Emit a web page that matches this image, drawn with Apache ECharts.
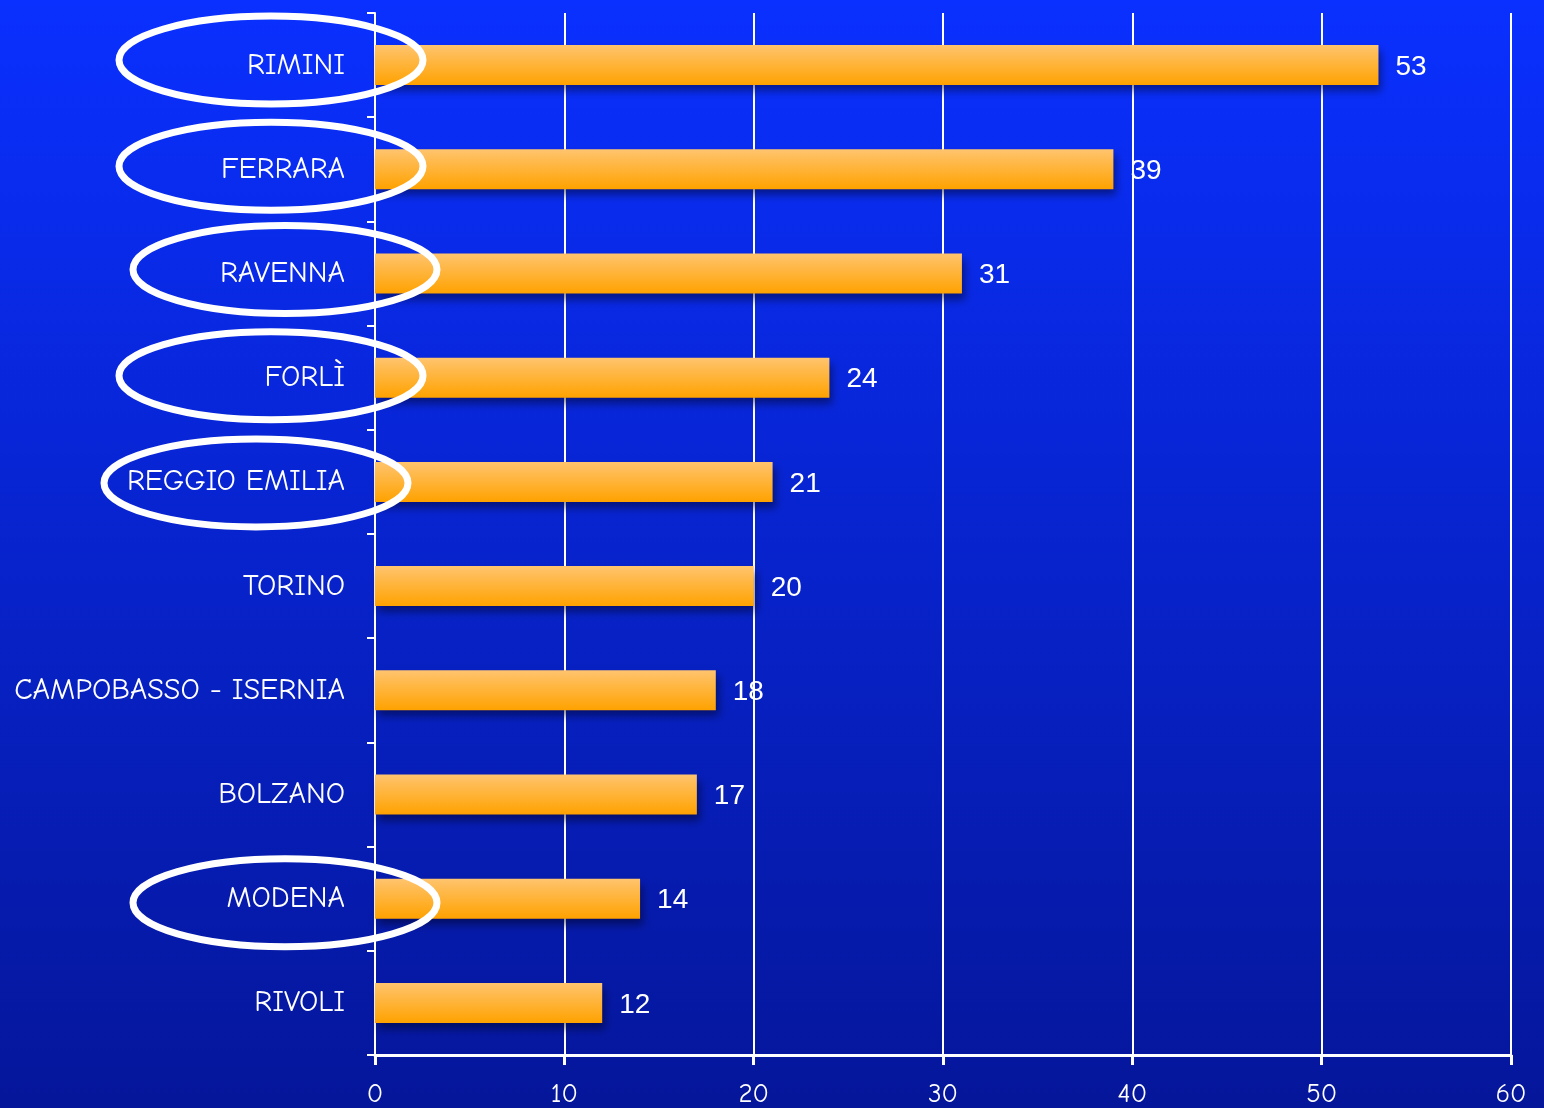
<!DOCTYPE html>
<html>
<head>
<meta charset="utf-8">
<script src="https://cdn.jsdelivr.net/npm/echarts@6/dist/echarts.min.js"></script>
<style>
  html, body { margin: 0; padding: 0; }
  #chart { width: 1544px; height: 1108px; }
</style>
</head>
<body>
<div id="chart"></div>
<script>
// Cities ranked top to bottom and their values
const categories = ['RIMINI', 'FERRARA', 'RAVENNA', 'FORLÌ', 'REGGIO EMILIA', 'TORINO', 'CAMPOBASSO - ISERNIA', 'BOLZANO', 'MODENA', 'RIVOLI'];
const values = [53, 39, 31, 24, 21, 20, 18, 17, 14, 12];
const xTicks = [0, 10, 20, 30, 40, 50, 60];
// Cities circled next to their label
const circled = ['RIMINI', 'FERRARA', 'RAVENNA', 'FORLÌ', 'REGGIO EMILIA', 'MODENA'];
const circleShift = { 'RIMINI': [-104, -5], 'FERRARA': [-104, -3], 'RAVENNA': [-90, -4], 'FORLÌ': [-104, -2], 'REGGIO EMILIA': [-119, 1], 'MODENA': [-90, 4] };

const labelFont = "'Comic Sans MS', 'Comic Neue', 'DejaVu Sans', sans-serif";

const chart = echarts.init(document.getElementById('chart'));
chart.setOption({
  animation: false,
  backgroundColor: {
    type: 'linear', x: 0, y: 0, x2: 0, y2: 1,
    colorStops: [{ offset: 0, color: '#0a30ff' }, { offset: 1, color: '#05169a' }]
  },
  grid: { left: 375, right: 33, top: 13, bottom: 52, containLabel: false },
  xAxis: {
    type: 'value', min: xTicks[0], max: xTicks[xTicks.length - 1], interval: 10,
    axisLine: { show: true, lineStyle: { color: '#fff', width: 3 } },
    axisTick: { show: true, length: 10, lineStyle: { color: '#fff', width: 3 } },
    splitLine: { show: true, lineStyle: { color: '#fff', width: 2 } },
    axisLabel: { color: '#fff', fontSize: 27, fontFamily: labelFont, margin: 26 }
  },
  yAxis: {
    type: 'category', data: categories, inverse: true,
    axisLine: { show: true, lineStyle: { color: '#fff', width: 2 } },
    axisTick: { show: true, length: 8, lineStyle: { color: '#fff', width: 2 } },
    axisLabel: { color: '#fff', fontSize: 30, fontFamily: labelFont, margin: 30, padding: [4, 0, 0, 0] }
  },
  series: [{
    type: 'bar', data: values, barWidth: 40, z: 3,
    itemStyle: {
      color: {
        type: 'linear', x: 0, y: 0, x2: 0, y2: 1,
        colorStops: [{ offset: 0, color: '#ffc46e' }, { offset: 1, color: '#ffa200' }]
      },
      shadowColor: 'rgba(0,0,20,0.45)', shadowBlur: 8, shadowOffsetX: 3, shadowOffsetY: 6
    },
    label: {
      show: true, position: 'right', distance: 17, color: '#fff', offset: [0, 2],
      fontSize: 28, fontFamily: "'Liberation Sans', Arial, sans-serif"
    }
  }]
});

// White ellipses drawn around the highlighted city labels
function drawRings() {
  const x0 = chart.convertToPixel({ xAxisIndex: 0 }, 0);
  const rings = circled.map(name => {
    const y = chart.convertToPixel({ yAxisIndex: 0 }, name);
    const s = circleShift[name];
    return {
      type: 'ellipse', z: 10, silent: true,
      shape: { cx: x0 + s[0], cy: y + s[1], rx: 152, ry: 44 },
      style: { fill: 'none', stroke: '#ffffff', lineWidth: 7 }
    };
  });
  chart.setOption({ graphic: { elements: rings } });
}
drawRings();
</script>
</body>
</html>
